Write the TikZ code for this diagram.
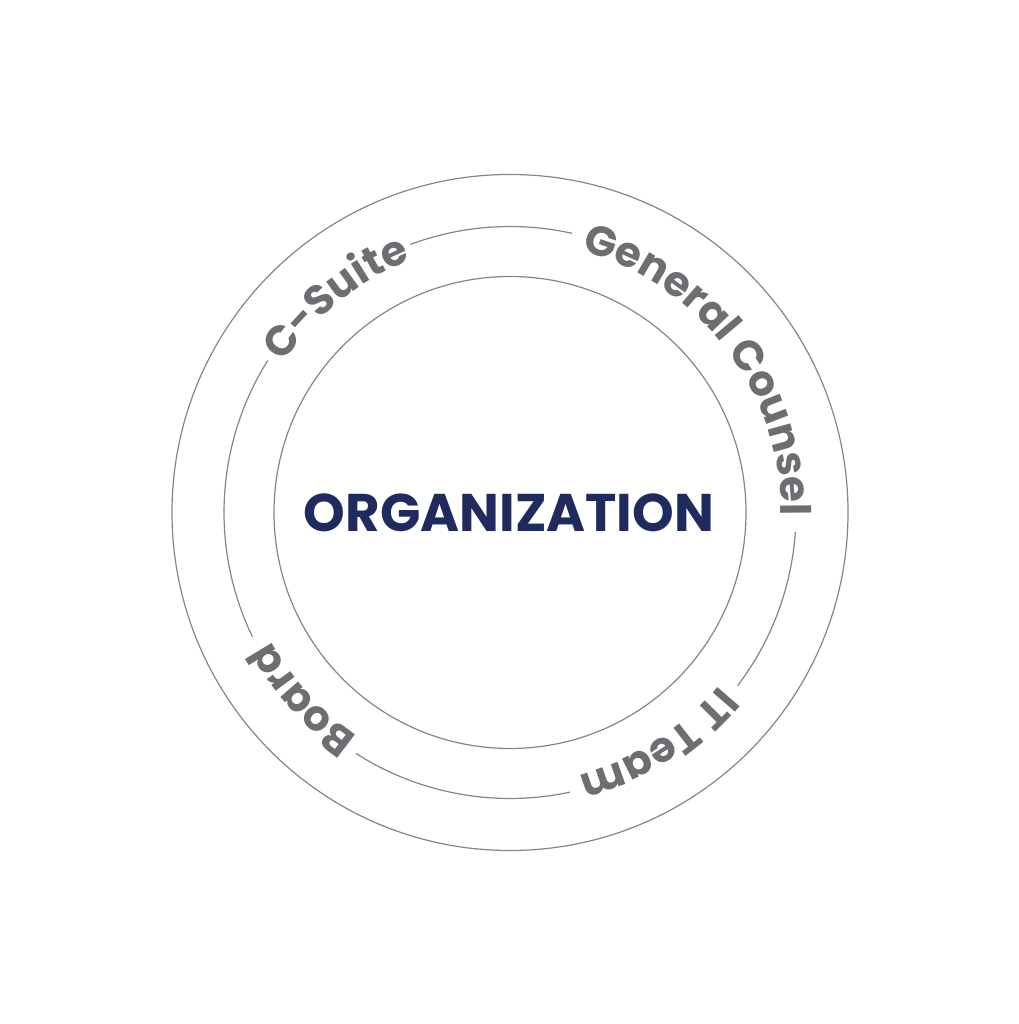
\documentclass[tikz,border=0pt]{standalone}
\usepackage{fontspec}
\setmainfont{Poppins}
\usepackage{xcolor}
\usetikzlibrary{decorations.text}
\definecolor{ringgray}{HTML}{858585}
\definecolor{labelgray}{HTML}{6D6E71}
\definecolor{orgblue}{HTML}{1F2A5E}
\newcommand{\ringfont}{\fontsize{42}{42}\selectfont\bfseries\color{labelgray}}
\tikzset{
	ring/.style={draw=ringgray, line width=1.2pt},
	ringlabel/.style={decorate, decoration={text along path, text align=center, text={|\ringfont|#1}}},
}

\begin{document}
\begin{tikzpicture}[x=1pt, y=1pt]
				\useasboundingbox (0,0) rectangle (1018,1024);
				\coordinate (c) at (510,511.5);
				
				\draw[ring] (c) circle[radius=338];
				\draw[ring] (c) circle[radius=236];
				
				% middle ring, broken where the labels sit
				\foreach \s/\e in {110.4/77.5, -3.9/-37.3, -77.9/-122.6, -154.2/-212.1}
				\draw[ring] (c) ++(\s:286) arc[start angle=\s, end angle=\e, radius=286];
				
				\path[ringlabel=C-Suite] (c) ++(179:271) arc[start angle=179, end angle=79, radius=271];
				\path[ringlabel=General Counsel] (c) ++(97:271) arc[start angle=97, end angle=-23, radius=271];
				\path[ringlabel=IT Team] (c) ++(-7.5:271) arc[start angle=-7.5, end angle=-107.5, radius=271];
				\path[ringlabel=Board] (c) ++(-88:271) arc[start angle=-88, end angle=-188, radius=271];
				
				\node[font=\fontsize{53}{53}\selectfont\bfseries, text=orgblue, inner sep=0pt] (org) at ([xshift=-1pt]c) {ORGANIZATION};
			\end{tikzpicture}
\end{document}
